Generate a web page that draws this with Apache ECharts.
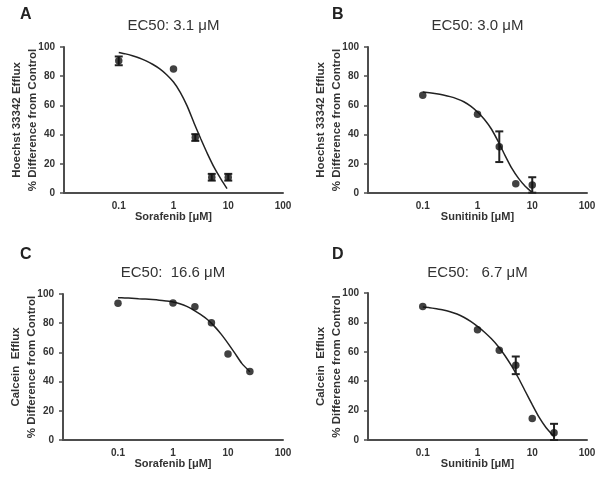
<!DOCTYPE html>
<html>
<head>
<meta charset="utf-8">
<script src="https://cdn.jsdelivr.net/npm/echarts@6/dist/echarts.min.js"></script>
<style>html,body{margin:0;padding:0;background:#fff}#c{width:600px;height:480px}</style>
</head>
<body>
<div id="c"></div>
<script>
// ---- Data ----
const yTicks = [0, 20, 40, 60, 80, 100];
const xTickLabels = ['0.1', '1', '10', '100'];

// Panel A: Hoechst 33342 efflux vs Sorafenib
const aDose = [0.1, 1, 2.5, 5, 10];
const aVal  = [90.5, 85, 38, 10.8, 10.8];
const aErr  = [3, 0, 2.3, 2.3, 2.3];
const aCurveX = [0.1, 0.133, 0.178, 0.237, 0.316, 0.422, 0.562, 0.75, 1.0, 1.33, 1.78, 2.37, 3.16, 4.22, 5.62, 7.5, 9.5];
const aCurveY = [96.3, 95.3, 94, 92.5, 90.5, 88, 85, 81, 76, 69, 59.5, 48, 37, 26.5, 17, 9, 3];

// Panel B: Hoechst 33342 efflux vs Sunitinib
const bDose = [0.1, 1, 2.5, 5, 10];
const bVal  = [67, 54, 31.7, 6.4, 5.5];
const bErr  = [0, 0, 10.5, 0, 5.3];
const bCurveX = [0.1, 0.133, 0.178, 0.237, 0.316, 0.422, 0.562, 0.75, 1.0, 1.33, 1.78, 2.37, 3.16, 4.22, 5.62, 7.5, 10];
const bCurveY = [69.2, 68.7, 68, 67.1, 66, 64.5, 62.5, 59.5, 55.5, 50.5, 44, 35.5, 26, 17, 10, 4.5, 0.4];

// Panel C: Calcein efflux vs Sorafenib
const cDose = [0.1, 1, 2.5, 5, 10, 25];
const cVal  = [93.6, 93.8, 91.2, 80.3, 58.9, 47];
const cErr  = [0, 0, 0, 0, 0, 0];
const cCurveX = [0.1, 0.133, 0.178, 0.237, 0.316, 0.422, 0.562, 0.75, 1.0, 1.33, 1.78, 2.37, 3.16, 4.22, 5.62, 7.5, 10, 13.3, 17.8, 25];
const cCurveY = [97.5, 97.3, 97.1, 96.8, 96.5, 96.2, 95.8, 95.2, 94.5, 93.3, 91.5, 89, 86, 82.5, 78, 72.5, 66.2, 59.5, 52.5, 46.8];

// Panel D: Calcein efflux vs Sunitinib
const dDose = [0.1, 1, 2.5, 5, 10, 25];
const dVal  = [90.8, 75, 61, 50.8, 14.7, 5];
const dErr  = [0, 0, 0, 6, 0, 6];
const dCurveX = [0.1, 0.133, 0.178, 0.237, 0.316, 0.422, 0.562, 0.75, 1.0, 1.33, 1.78, 2.37, 3.16, 4.22, 5.62, 7.5, 10, 13.3, 17.8, 25];
const dCurveY = [90.4, 90, 89.3, 88.5, 87.3, 85.7, 83.5, 80.7, 77.3, 73.5, 69, 63.8, 57.5, 50.2, 42, 33, 24, 15.5, 8.5, 2.3];

const titles = ['EC50: 3.1 \u03bcM', 'EC50: 3.0 \u03bcM', 'EC50:  16.6 \u03bcM', 'EC50:   6.7 \u03bcM'];
const letters = ['A', 'B', 'C', 'D'];
const xNames = ['Sorafenib [\u03bcM]', 'Sunitinib [\u03bcM]', 'Sorafenib [\u03bcM]', 'Sunitinib [\u03bcM]'];
const yNames = ['Hoechst 33342 Efflux\n% Difference from Control', 'Hoechst 33342 Efflux\n% Difference from Control',
                'Calcein  Efflux\n% Difference from Control', 'Calcein  Efflux\n% Difference from Control'];

// ---- Build chart ----
const panels = [
  {dose: aDose, val: aVal, err: aErr, cx: aCurveX, cy: aCurveY},
  {dose: bDose, val: bVal, err: bErr, cx: bCurveX, cy: bCurveY},
  {dose: cDose, val: cVal, err: cErr, cx: cCurveX, cy: cCurveY},
  {dose: dDose, val: dVal, err: dErr, cx: dCurveX, cy: dCurveY}
];
const grids = [
  {left: 64, top: 47, width: 219, height: 146},
  {left: 368, top: 47, width: 219, height: 146},
  {left: 63, top: 294, width: 220, height: 146},
  {left: 368, top: 293, width: 219, height: 147}
];
const FONT = 'Liberation Sans, Arial, sans-serif';
const axisColor = '#4d4d4d';
const textColor = '#333';

const xAxis = [], yAxis = [], series = [], title = [];
grids.forEach((g, i) => {
  xAxis.push({
    type: 'log', logBase: 10, min: 0.01, max: 100, gridIndex: i,
    axisLine: {lineStyle: {color: axisColor, width: 2}},
    axisTick: {show: false},
    splitLine: {show: false},
    axisLabel: {
      color: textColor, fontFamily: FONT, fontWeight: 'bold', fontSize: 10, margin: 8,
      formatter: v => {
        const s = String(+(+v).toPrecision(3));
        return xTickLabels.indexOf(s) >= 0 ? s : '';
      }
    },
    name: xNames[i], nameLocation: 'middle', nameGap: 18, nameMoveOverlap: false,
    nameTextStyle: {color: textColor, fontFamily: FONT, fontWeight: 'bold', fontSize: 11}
  });
  yAxis.push({
    type: 'value', min: 0, max: 100, interval: 20, gridIndex: i,
    axisLine: {show: true, lineStyle: {color: axisColor, width: 2}},
    axisTick: {show: true, length: 4, lineStyle: {color: axisColor, width: 1.5}},
    splitLine: {show: false},
    axisLabel: {color: textColor, fontFamily: FONT, fontWeight: 'bold', fontSize: 10, margin: 9,
      formatter: v => yTicks.indexOf(v) >= 0 ? String(v) : ''},
    name: yNames[i], nameLocation: 'middle', nameGap: 23, nameRotate: 90, nameMoveOverlap: false,
    nameTextStyle: {color: textColor, fontFamily: FONT, fontWeight: 'bold', fontSize: 11.5, lineHeight: 16}
  });
  const p = panels[i];
  series.push({
    type: 'line', xAxisIndex: i, yAxisIndex: i, smooth: 0.2,
    symbol: 'none', lineStyle: {color: '#222', width: 1.5},
    data: p.cx.map((x, k) => [x, p.cy[k]]), silent: true, z: 2
  });
  series.push({
    type: 'custom', xAxisIndex: i, yAxisIndex: i, z: 3, silent: true,
    data: p.dose.map((x, k) => [x, p.val[k], p.err[k]]),
    renderItem: (params, api) => {
      const x = api.value(0), y = api.value(1), e = api.value(2);
      if (!e) return null;
      const top = api.coord([x, y + e]);
      const bot = api.coord([x, Math.max(y - e, 0)]);
      const w = 4;
      const st = {stroke: '#222', lineWidth: 2};
      return {type: 'group', children: [
        {type: 'line', shape: {x1: top[0], y1: top[1], x2: bot[0], y2: bot[1]}, style: st},
        {type: 'line', shape: {x1: top[0] - w, y1: top[1], x2: top[0] + w, y2: top[1]}, style: st},
        {type: 'line', shape: {x1: bot[0] - w, y1: bot[1], x2: bot[0] + w, y2: bot[1]}, style: st}
      ]};
    }
  });
  series.push({
    type: 'scatter', xAxisIndex: i, yAxisIndex: i, symbol: 'circle', symbolSize: 7.5,
    itemStyle: {color: '#111'}, z: 4, silent: true,
    data: p.dose.map((x, k) => [x, p.val[k]])
  });
  title.push({
    text: titles[i], left: g.left + g.width / 2, top: (i < 2 ? 18 : 265), textAlign: 'center', padding: 0,
    textStyle: {color: textColor, fontFamily: FONT, fontWeight: 'normal', fontSize: 15}
  });
  title.push({
    text: letters[i], left: (i % 2 === 0 ? 20 : 332), top: (i < 2 ? 7 : 247), padding: 0,
    textStyle: {color: '#222', fontFamily: FONT, fontWeight: 'bold', fontSize: 16}
  });
});

const chart = echarts.init(document.getElementById('c'), null, {renderer: 'canvas'});
chart.setOption({
  backgroundColor: '#fff', animation: false,
  title, grid: grids, xAxis, yAxis, series
});
</script>
</body>
</html>
